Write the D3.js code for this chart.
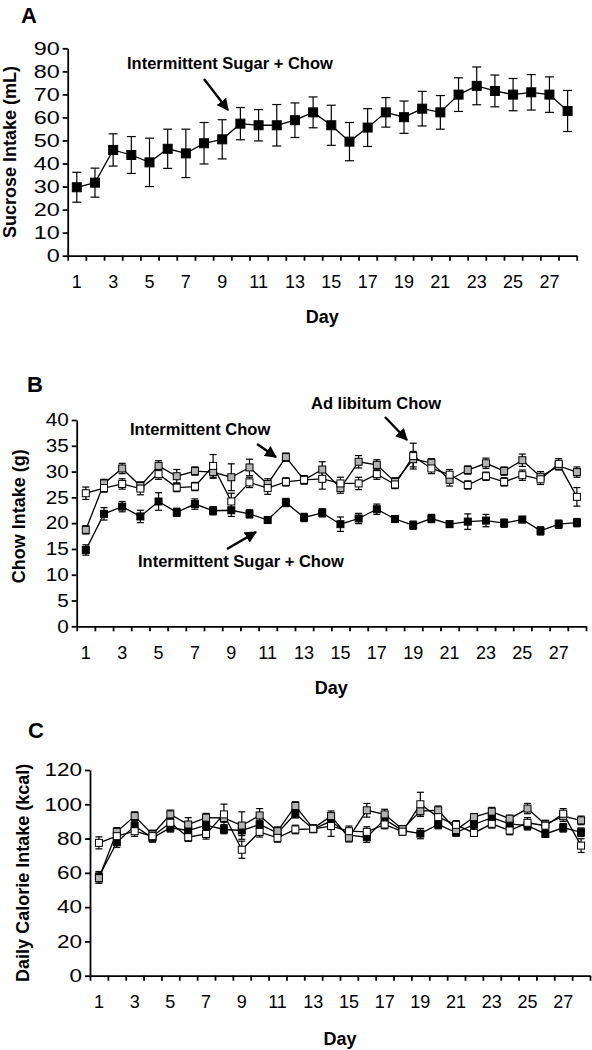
<!DOCTYPE html>
<html><head><meta charset="utf-8">
<script src="https://cdn.jsdelivr.net/npm/d3@7/dist/d3.min.js"></script>
<style>
body{margin:0;background:#fff;}
text{font-family:"Liberation Sans",Arial,sans-serif;fill:#000;}
</style></head>
<body><svg id="c" width="592" height="1050"></svg>
<script>
const days = d3.range(1, 29);
const dayTicks = [1,3,5,7,9,11,13,15,17,19,21,23,25,27];

// Panel A: sucrose intake (mL)
const sucrose = [29.7,31.7,45.9,43.7,40.5,46.4,44.4,48.8,50.5,57.3,56.6,56.6,58.8,62.2,56.6,49.5,55.6,62.2,60.1,63.8,62.2,69.9,73.7,71.5,69.9,70.9,69.9,62.8];
const sucroseErr = [6.5,6.3,7.0,8.0,10.5,8.5,10.5,9.0,8.5,7.0,6.8,9.0,7.5,6.7,8.7,8.3,8.2,6.4,7.0,7.5,7.3,7.3,8.2,6.9,7.0,7.7,7.7,8.9];
const ticksA = [0,10,20,30,40,50,60,70,80,90];

// Panel B: chow intake (g)
const chowSugar = [14.8,21.8,23.2,21.3,24.2,22.1,23.7,22.4,22.5,21.8,20.6,24.0,21.1,22.0,19.8,20.9,22.7,20.8,19.6,20.9,19.8,20.3,20.5,20.0,20.7,18.5,19.8,20.1];
const chowSugarErr = [1.0,1.2,1.0,1.2,1.7,0.8,1.0,0.8,1.2,0.8,0.6,0.8,0.8,0.8,1.4,1.0,1.0,0.6,0.8,0.8,0.6,1.5,1.2,0.8,0.6,0.8,0.8,0.8];
const chowInter = [18.7,27.7,30.6,27.2,31.1,29.1,30.1,29.9,28.9,30.8,27.6,32.8,28.4,30.4,26.8,31.9,31.3,28.0,32.4,31.7,28.4,30.3,31.6,30.1,32.2,29.0,31.1,29.9];
const chowInterErr = [0.8,0.8,1.0,0.8,1.0,1.3,0.8,1.2,2.6,1.6,1.0,0.8,0.8,1.5,1.0,1.2,1.0,0.8,1.5,0.8,1.2,0.8,1.0,0.8,1.2,1.0,0.8,1.0];
const chowAdlib = [25.8,26.8,27.6,26.7,29.5,26.9,27.1,31.1,24.2,27.9,26.8,28.0,28.4,28.6,27.7,27.7,29.5,27.5,33.0,30.6,29.4,27.4,29.1,28.0,29.3,28.5,31.5,25.1];
const chowAdlibErr = [1.2,0.8,1.0,1.2,1.0,0.8,0.8,2.2,1.6,1.0,1.2,0.8,0.8,2.0,1.2,1.2,1.0,0.8,2.5,1.0,1.0,0.8,0.8,0.8,1.0,1.0,1.0,1.8];
const ticksB = [0,5,10,15,20,25,30,35,40];

// Panel C: daily calorie intake (kcal)
const calSugar = [57.8,77.8,87.3,80.4,86.3,84.7,87.8,85.3,84.7,88.2,83.3,94.5,85.5,90.2,82.0,80.8,91.2,84.7,82.9,88.2,83.5,88.2,92.2,88.6,87.5,82.7,86.3,83.7];
const calSugarErr = [3,3,2.5,2.5,2.5,2.5,2.5,2.5,3,2.5,2,2.5,2,2.5,3,3,2.5,2,3,2.5,2,2.5,2.5,2.5,2.5,2,2.5,2.5];
const calInter = [56.9,83.9,93.1,82.4,94.1,88.2,92.2,92.0,87.6,93.5,84.3,99.0,86.0,93.1,80.5,96.5,94.1,85.5,96.0,96.5,85.0,92.5,95.7,91.6,97.5,88.2,93.0,90.6];
const calInterErr = [3,2.5,2.5,2.5,2.5,4,2.5,2.5,8,4,2.5,2.5,2,3,2.5,4,3,2,3,2.5,2.5,2,2.5,2,3,2.5,3,2.5];
const calAdlib = [77.5,81.4,84.3,81.4,89.2,80.8,82.7,94.1,73.5,83.9,80.4,85.3,85.7,87.3,84.3,83.9,88.2,84.0,100.0,92.5,88.0,83.3,88.6,84.7,89.2,87.5,94.5,75.9];
const calAdlibErr = [3.5,3,3,3,3,2.5,3,6,5,3,2.5,2.5,2,6,3,3,2.5,2,7,3,2.5,2,2.5,2.5,3,2.5,3,4];
const ticksC = [0,20,40,60,80,100,120];

const svg = d3.select("#c");
svg.append("defs").append("marker")
  .attr("id","arr").attr("viewBox","0 0 10 10").attr("refX",9).attr("refY",5)
  .attr("markerWidth",5).attr("markerHeight",5).attr("orient","auto")
  .append("path").attr("d","M0,0 L10,5 L0,10 z").attr("fill","#000");

function panel(cfg){
  const g = svg.append("g");
  const x = d3.scaleBand().domain(days).range([cfg.x0, cfg.x1]).padding(0);
  const xl = d3.scaleLinear().domain([0, days.length]).range([cfg.x0, cfg.x1]);
  const y = d3.scaleLinear().domain([0, cfg.ymax]).range([cfg.yb, cfg.yt]);
  // y axis
  const ya = g.append("g").attr("transform",`translate(${cfg.x0},0)`)
    .call(d3.axisLeft(y).tickValues(cfg.ticks).tickSize(5).tickSizeOuter(0).tickPadding(3));
  ya.selectAll("text").style("font-size","18px")
    .attr("x", -8/cfg.ys).attr("transform",`scale(${cfg.ys},1)`);
  // x axis ticks at band edges
  g.append("g").attr("transform",`translate(0,${cfg.yb})`)
    .call(d3.axisBottom(xl).tickValues(d3.range(0, days.length+1)).tickSize(5).tickSizeOuter(0).tickFormat(""));
  const xlab = g.append("g").attr("transform",`translate(0,${cfg.yb})`)
    .call(d3.axisBottom(x).tickValues(dayTicks).tickSize(0).tickPadding(20));
  xlab.select(".domain").remove();
  xlab.selectAll("text").style("font-size","18px");
  g.selectAll(".domain, .tick line").attr("stroke","#000").attr("stroke-width",1.8);
  // titles
  g.append("text").attr("x",cfg.lx).attr("y",cfg.ly).attr("font-size",22).attr("font-weight","bold")
    .attr("text-anchor","middle").attr("dominant-baseline","central").text(cfg.letter);
  g.append("text").attr("transform",`translate(${cfg.yTitleX},${(cfg.yt+cfg.yb)/2 + cfg.yTitleDy}) rotate(-90)`)
    .attr("font-size",18).attr("font-weight","bold").attr("text-anchor","middle")
    .attr("dominant-baseline","central").text(cfg.yTitle);
  g.append("text").attr("x",(cfg.x0+cfg.x1)/2).attr("y",cfg.yb+cfg.dayDy).attr("font-size",18)
    .attr("font-weight","bold").attr("text-anchor","middle").attr("dominant-baseline","central").text("Day");

  const cx = d => x(d) + x.bandwidth()/2;
  cfg.series.forEach(s => {
    const pts = days.map((d,i)=>({d, v:s.vals[i], e:s.err[i]}));
    g.append("path").datum(pts).attr("fill","none").attr("stroke","#000").attr("stroke-width",1.3)
      .attr("d", d3.line().x(p=>cx(p.d)).y(p=>y(p.v)));
  });
  cfg.series.forEach(s => {
    const pts = days.map((d,i)=>({d, v:s.vals[i], e:s.err[i]}));
    const eg = g.append("g").attr("stroke","#000").attr("stroke-width",1.2);
    pts.forEach(p=>{
      eg.append("line").attr("x1",cx(p.d)).attr("x2",cx(p.d)).attr("y1",y(p.v-p.e)).attr("y2",y(p.v+p.e));
      [p.v-p.e, p.v+p.e].forEach(v=>eg.append("line").attr("x1",cx(p.d)-cfg.cap/2).attr("x2",cx(p.d)+cfg.cap/2)
        .attr("y1",y(v)).attr("y2",y(v)));
    });
  });
  cfg.series.forEach(s => {
    const pts = days.map((d,i)=>({d, v:s.vals[i]}));
    g.append("g").selectAll("rect").data(pts).join("rect")
      .attr("x",p=>cx(p.d)-cfg.ms/2).attr("y",p=>y(p.v)-cfg.ms/2)
      .attr("width",cfg.ms).attr("height",cfg.ms)
      .attr("fill",s.fill).attr("stroke","#000").attr("stroke-width",1);
  });
  (cfg.notes||[]).forEach(n=>{
    g.append("text").attr("x",n.tx).attr("y",n.ty).attr("font-size",16.5).attr("font-weight","bold")
      .attr("dominant-baseline","central").text(n.text);
    g.append("line").attr("x1",n.ax1).attr("y1",n.ay1).attr("x2",n.ax2).attr("y2",n.ay2)
      .attr("stroke","#000").attr("stroke-width",2.4).attr("marker-end","url(#arr)");
  });
}

panel({letter:"A", lx:29, ly:15, x0:67.7, x1:576.7, yb:255.7, yt:48.3, ymax:90, ticks:ticksA, ys:1.3,
  yTitle:"Sucrose Intake (mL)", yTitleX:10, yTitleDy:0, dayDy:61, ms:9, cap:9,
  series:[{vals:sucrose, err:sucroseErr, fill:"#000"}],
  notes:[{text:"Intermittent Sugar + Chow", tx:127, ty:63, ax1:204, ay1:79, ax2:228, ay2:110}]});

panel({letter:"B", lx:35, ly:384, x0:76.7, x1:586, yb:626.3, yt:420, ymax:40, ticks:ticksB, ys:1.15,
  yTitle:"Chow Intake (g)", yTitleX:19, yTitleDy:-7, dayDy:62, ms:7, cap:7,
  series:[{vals:chowSugar, err:chowSugarErr, fill:"#000"},
          {vals:chowInter, err:chowInterErr, fill:"#b3b3b3"},
          {vals:chowAdlib, err:chowAdlibErr, fill:"#fff"}],
  notes:[{text:"Intermittent Chow", tx:130, ty:429, ax1:257, ay1:444, ax2:276, ay2:457},
         {text:"Ad libitum Chow", tx:311, ty:403, ax1:385, ay1:417, ax2:407, ay2:440},
         {text:"Intermittent Sugar + Chow", tx:138, ty:561, ax1:227, ay1:549, ax2:256, ay2:532}]});

panel({letter:"C", lx:36, ly:730, x0:90, x1:590, yb:975.7, yt:770, ymax:120, ticks:ticksC, ys:1.25,
  yTitle:"Daily Calorie Intake (kcal)", yTitleX:23, yTitleDy:0, dayDy:63, ms:7, cap:7,
  series:[{vals:calSugar, err:calSugarErr, fill:"#000"},
          {vals:calInter, err:calInterErr, fill:"#b3b3b3"},
          {vals:calAdlib, err:calAdlibErr, fill:"#fff"}]});
</script></body></html>
